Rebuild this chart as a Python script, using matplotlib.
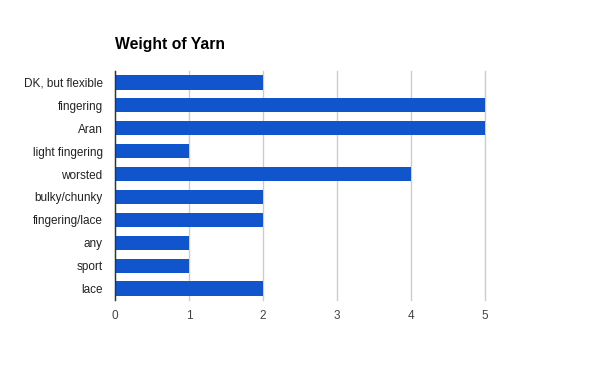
import matplotlib
matplotlib.use('Agg')
import matplotlib.pyplot as plt

categories = ['DK, but flexible', 'fingering', 'Aran', 'light fingering', 'worsted',
              'bulky/chunky', 'fingering/lace', 'any', 'sport', 'lace']
counts = [2, 5, 5, 1, 4, 2, 2, 1, 1, 2]
x_ticks = [0, 1, 2, 3, 4, 5]

plt.rcParams['font.family'] = ['Liberation Sans', 'DejaVu Sans']

fig = plt.figure(figsize=(6, 3.71), dpi=100)
ax = fig.add_axes([115 / 600, 71 / 371, 370 / 600, 229 / 371])

y = list(range(len(categories)))
ax.barh(y, counts, height=0.62, color='#1155cc', zorder=3)
ax.set_ylim(len(categories) - 0.5, -0.5)
ax.set_xlim(0, 5)

ax.set_yticks(y)
ax.set_yticklabels(categories, fontsize=8.5, color='#222222')
ax.set_xticks(x_ticks)
ax.set_xticklabels([str(t) for t in x_ticks], fontsize=8.5, color='#444444')
ax.tick_params(axis='both', length=0)
ax.tick_params(axis='y', pad=9)
ax.tick_params(axis='x', pad=7)

ax.grid(axis='x', color='#cccccc', linewidth=1, zorder=0)
for gl in ax.xaxis.get_gridlines():
    gl.set_clip_on(False)
for side in ['top', 'right', 'bottom']:
    ax.spines[side].set_visible(False)
ax.spines['left'].set_color('#333333')
ax.spines['left'].set_linewidth(1)
ax.spines['left'].set_zorder(4)

fig.text(115 / 600, 1 - 45 / 371, 'Weight of Yarn', fontsize=11.3, fontweight='bold',
         color='#000000', ha='left', va='center')

fig.savefig('out.png', dpi=100)
